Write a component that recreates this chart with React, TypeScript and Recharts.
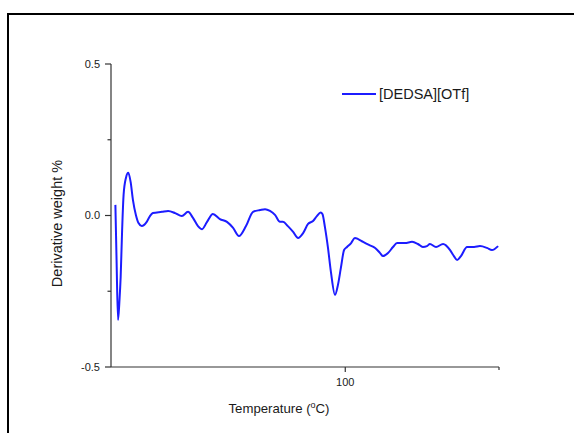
import React from 'react';
import { LineChart, Line, XAxis, YAxis } from 'recharts';

// Temperature (°C) of each sample of the DTG trace
const temperatures = [
  21.5, 21.9, 22.4, 22.9, 23.3, 23.8, 24.3, 25.1, 25.9, 26.7,
  27.5, 28.5, 29.4, 30.5, 32.2, 33.3, 34.3, 37.4, 39.5, 41.9,
  44.2, 46.3, 48.0, 49.7, 51.1, 52.8, 54.8, 57.2, 59.6, 61.7,
  63.7, 66.1, 68.5, 70.9, 72.6, 74.3, 76.0, 77.7, 78.7, 80.4,
  82.2, 83.9, 85.6, 87.3, 89.0, 90.3, 91.6, 92.2, 93.1, 94.1,
  95.1, 96.5, 97.5, 98.5, 99.6, 100.6, 102.0, 103.3, 104.4, 106.1,
  108.1, 110.2, 111.9, 112.9, 114.6, 116.3, 117.7, 120.4, 122.8, 124.8,
  126.5, 127.9, 128.9, 131.0, 133.4, 135.8, 137.1, 138.2, 139.5, 141.6,
  144.0, 146.0, 148.4, 150.1, 152.2,
];

// Derivative weight (%) of [DEDSA][OTf]
const derivWeight = [
  0.035, -0.147, -0.345, -0.279, -0.203, -0.048, 0.068, 0.124, 0.141, 0.111,
  0.051, 0.002, -0.025, -0.035, -0.021, -0.002, 0.008, 0.012, 0.015, 0.008,
  -0.002, 0.012, -0.008, -0.035, -0.045, -0.021, 0.005, -0.012, -0.021, -0.041,
  -0.068, -0.035, 0.012, 0.018, 0.021, 0.015, 0.002, -0.021, -0.021, -0.035,
  -0.054, -0.074, -0.058, -0.028, -0.018, -0.002, 0.010, 0.005, -0.041, -0.107,
  -0.186, -0.262, -0.229, -0.173, -0.114, -0.104, -0.091, -0.074, -0.078, -0.087,
  -0.097, -0.107, -0.124, -0.134, -0.124, -0.104, -0.091, -0.091, -0.087, -0.094,
  -0.104, -0.101, -0.094, -0.104, -0.094, -0.114, -0.134, -0.147, -0.134, -0.104,
  -0.104, -0.101, -0.107, -0.114, -0.101,
];

const xDomain = [20, 152.5];
const xTicks = [100, 152.5];
const xMajorTicks = [100];
const yDomain = [-0.5, 0.5];
const yTicks = [-0.5, -0.25, 0, 0.25, 0.5];
const yMajorTicks = [-0.5, 0, 0.5];
const seriesName = '[DEDSA][OTf]';
const xTitle = 'Temperature (';
const xTitleSup = 'o';
const xTitleEnd = 'C)';
const yTitle = 'Derivative weight %';

const data = temperatures.map((t, i) => ({ t, w: derivWeight[i] }));

const FONT = '"Liberation Sans", Arial, sans-serif';
const AXIS = '#333';
const TEXT = '#1a1a1a';
const BLUE = '#1c1cff';

const YTick = (props: any) => {
  const { x, y, payload } = props;
  const major = yMajorTicks.includes(payload.value);
  return (
    <g>
      <line x1={x} x2={x - (major ? 6 : 3.5)} y1={y} y2={y} stroke={AXIS} strokeWidth={1.2} />
      {major && (
        <text x={x - 11} y={y} dy="0.35em" textAnchor="end" fontSize={11} fill={TEXT} fontFamily={FONT}>
          {payload.value.toFixed(1)}
        </text>
      )}
    </g>
  );
};

const XTick = (props: any) => {
  const { x, y, payload } = props;
  const major = xMajorTicks.includes(payload.value);
  return (
    <g>
      <line x1={x} x2={x} y1={y} y2={y + (major ? 5 : 3)} stroke={AXIS} strokeWidth={1.2} />
      {major && (
        <text x={x} y={y + 15} dy="0.35em" textAnchor="middle" fontSize={11} fill={TEXT} fontFamily={FONT}>
          {payload.value}
        </text>
      )}
    </g>
  );
};

const XTitle = (props: any) => {
  const { viewBox } = props;
  const cx = viewBox.x + viewBox.width / 2 - 26;
  const cy = viewBox.y + 46;
  return (
    <text x={cx} y={cy} textAnchor="middle" fontSize={13.2} fill={TEXT} fontFamily={FONT}>
      {xTitle}
      <tspan fontSize={9} dy={-5}>{xTitleSup}</tspan>
      <tspan dy={5}>{xTitleEnd}</tspan>
    </text>
  );
};

const YTitle = (props: any) => {
  const { viewBox } = props;
  const cx = viewBox.x + 57;
  const cy = viewBox.y + viewBox.height / 2 + 8;
  return (
    <text
      x={cx}
      y={cy}
      dy="0.35em"
      textAnchor="middle"
      fontSize={14.5}
      fill={TEXT}
      fontFamily={FONT}
      transform={`rotate(-90, ${cx}, ${cy})`}
    >
      {yTitle}
    </text>
  );
};

export default function App() {
  return (
    <div style={{ position: 'absolute', left: 0, top: 0, width: 574, height: 433, overflow: 'hidden', background: '#fff' }}>
      <div
        style={{
          position: 'absolute',
          left: 7,
          top: 13,
          width: 700,
          height: 600,
          border: '2px solid #000',
        }}
      />
      <div style={{ position: 'absolute', left: 0, top: 0 }}>
        <LineChart width={574} height={433} data={data} margin={{ top: 64, right: 75, bottom: 0, left: 0 }}>
          <XAxis
            dataKey="t"
            type="number"
            domain={xDomain}
            ticks={xTicks}
            allowDataOverflow
            height={66}
            tickSize={0}
            tickMargin={0}
            tickLine={false}
            tick={<XTick />}
            axisLine={{ stroke: AXIS, strokeWidth: 1.2 }}
            label={{ content: <XTitle /> }}
          />
          <YAxis
            type="number"
            domain={yDomain}
            ticks={yTicks}
            allowDataOverflow
            width={111}
            tickSize={0}
            tickMargin={0}
            tickLine={false}
            tick={<YTick />}
            axisLine={{ stroke: AXIS, strokeWidth: 1.2 }}
            label={{ content: <YTitle /> }}
          />
          <Line
            type="monotone"
            dataKey="w"
            name={seriesName}
            stroke={BLUE}
            strokeWidth={2}
            dot={false}
            isAnimationActive={false}
          />
        </LineChart>
      </div>
      <div
        style={{
          position: 'absolute',
          left: 342,
          top: 86,
          display: 'flex',
          alignItems: 'center',
          fontFamily: FONT,
          fontSize: 14.5,
          color: TEXT,
          lineHeight: '16px',
        }}
      >
        <svg width={34} height={4} style={{ marginRight: 3 }}>
          <line x1={0} x2={34} y1={2} y2={2} stroke={BLUE} strokeWidth={2} />
        </svg>
        <span>{seriesName}</span>
      </div>
    </div>
  );
}
